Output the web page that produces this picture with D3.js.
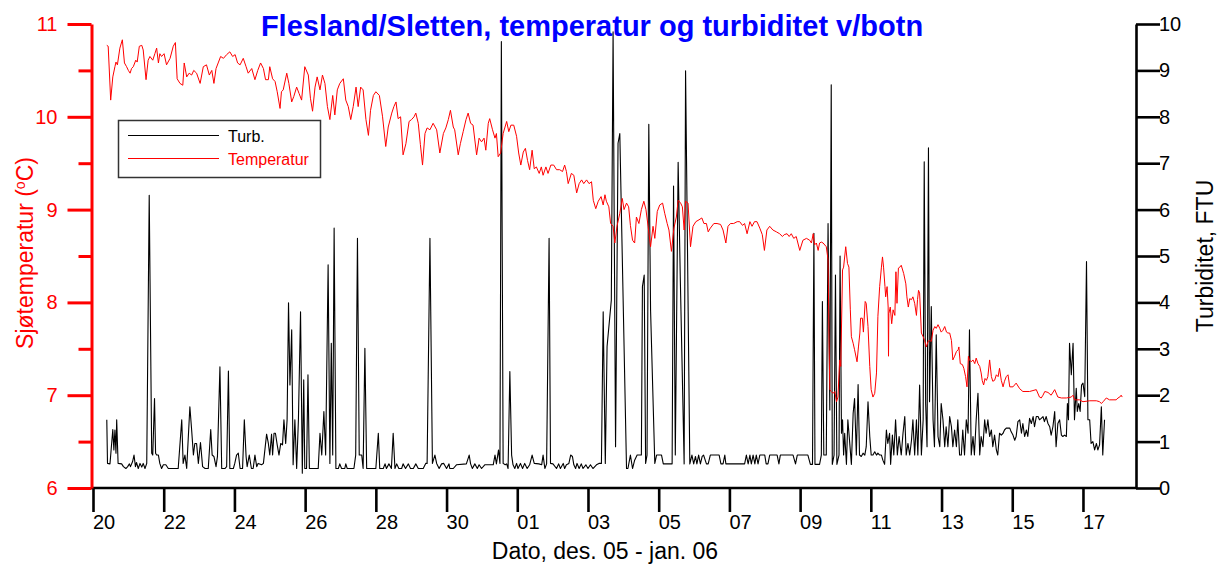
<!DOCTYPE html>
<html>
<head>
<meta charset="utf-8">
<script src="https://cdn.jsdelivr.net/npm/d3@7"></script>
<style>
  body { margin: 0; background: #fff; }
  svg { display: block; }
  text { font-family: "Liberation Sans", Arial, Helvetica, sans-serif; }
</style>
</head>
<body>
<svg id="chart" width="1217" height="564"></svg>
<script>
// Time is given as fractional days after 20 Dec 2005 00:00.
const tempDays = [
  0.39,0.43,0.50,0.56,0.62,0.65,0.69,0.76,0.83,0.89,0.95,1.00,1.05,1.09,1.14,1.21,1.25,1.31,1.38,1.42,
  1.50,1.56,1.61,1.69,1.75,1.80,1.85,1.89,1.94,2.01,2.08,2.18,2.27,2.33,2.38,2.46,2.54,2.58,2.65,2.72,
  2.79,2.85,2.93,3.03,3.12,3.21,3.29,3.36,3.42,3.48,3.54,3.61,3.69,3.78,3.87,3.95,4.02,4.09,4.16,4.25,
  4.33,4.39,4.49,4.58,4.66,4.74,4.82,4.88,4.96,5.00,5.08,5.15,5.21,5.29,5.33,5.38,5.48,5.54,5.62,5.68,
  5.76,5.83,5.90,5.99,6.09,6.15,6.21,6.28,6.34,6.42,6.49,6.56,6.63,6.70,6.78,6.84,6.91,6.98,7.08,7.15,
  7.22,7.29,7.36,7.44,7.50,7.57,7.64,7.72,7.79,7.85,7.93,8.00,8.10,8.19,8.28,8.35,8.45,8.51,8.57,8.63,
  8.70,8.77,8.85,8.94,9.01,9.08,9.13,9.20,9.26,9.32,9.39,9.45,9.53,9.62,9.72,9.81,9.91,9.98,10.05,
  10.11,10.19,10.23,10.33,10.39,10.47,10.55,10.61,10.68,10.75,10.85,10.92,10.99,11.06,11.11,11.18,11.22,11.30,11.37,11.41,
  11.46,11.53,11.60,11.70,11.76,11.82,11.90,11.98,12.04,12.10,12.17,12.23,12.29,12.35,12.42,12.48,12.54,12.62,12.68,12.73,
  12.81,12.87,12.95,13.03,13.11,13.20,13.28,13.34,13.39,13.44,13.53,13.60,13.68,13.75,13.82,13.88,13.96,14.03,14.10,14.15,
  14.22,14.29,14.37,14.43,14.48,14.52,14.59,14.64,14.71,14.76,14.82,14.90,14.97,15.02,15.09,15.15,15.20,15.26,15.32,15.37,
  15.44,15.51,15.58,15.64,15.70,15.77,15.84,15.89,15.96,16.03,16.11,16.17,16.24,16.29,16.36,16.43,16.50,16.55,16.62,16.67,
  16.72,16.76,16.83,16.90,16.97,17.05,17.14,17.22,17.28,17.35,17.40,17.46,17.56,17.65,17.75,17.82,17.90,17.96,18.03,18.12,
  18.22,18.29,18.37,18.43,18.50,18.58,18.64,18.71,18.78,18.86,18.93,18.99,19.06,19.14,19.23,19.33,19.42,19.50,19.55,19.63,
  19.69,19.75,19.82,19.89,
  19.99,20.08,20.18,20.27,20.32,20.37,20.41,20.46,20.51,20.55,20.60,20.65,20.74,20.79,20.82,20.84,20.88,20.93,20.98,21.03,
  21.07,21.12,21.15,21.20,21.23,21.29,21.34,21.38,21.42,21.45,21.50,21.54,21.61,21.65,21.69,21.71,21.76,21.79,21.84,21.87,
  21.92,21.97,22.01,22.06,22.11,22.16,22.20,22.25,22.30,22.33,22.36,22.40,22.42,22.46,22.49,22.50,22.51,22.55,22.59,22.63,
  22.68,22.71,22.74,22.78,22.82,22.86,22.93,22.99,23.02,23.06,23.10,23.15,23.19,23.24,23.29,23.32,23.35,23.38,23.43,23.48,
  23.52,23.57,23.62,23.66,23.71,23.76,23.81,23.85,23.90,23.95,23.99,24.04,24.09,24.14,24.18,24.23,24.28,24.32,24.37,24.42,
  24.47,24.49,24.53,24.59,24.63,24.68,24.72,24.76,24.79,24.84,24.89,24.94,24.98,25.03,25.08,25.12,25.15,25.19,25.23,25.27,
  25.31,25.36,25.41,25.45,25.50,25.55,25.60,25.64,25.69,25.74,25.78,25.83,25.88,25.93,26.02,26.11,26.21,26.30,26.49,26.68,
  26.77,26.82,26.87,26.92,27.01,27.10,27.20,27.29,27.39,27.53,27.67,27.72,27.76,27.90,28.00,28.19,28.38,28.47,28.52,28.57,
  28.66,28.75,28.85,28.94,28.99,29.04,29.08,29.11
];
const tempValues = [
  10.77,10.76,10.18,10.43,10.54,10.59,10.56,10.74,10.83,10.58,10.54,10.50,10.47,10.52,10.54,10.61,10.59,10.76,10.77,10.72,
  10.40,10.61,10.65,10.61,10.68,10.74,10.58,10.68,10.65,10.68,10.56,10.63,10.76,10.80,10.41,10.36,10.34,10.58,10.43,10.47,
  10.45,10.50,10.47,10.36,10.54,10.56,10.45,10.50,10.36,10.52,10.58,10.65,10.63,10.67,10.70,10.65,10.67,10.58,10.56,10.63,
  10.54,10.47,10.52,10.40,10.50,10.58,10.52,10.40,10.40,10.54,10.41,10.38,10.27,10.09,10.27,10.29,10.47,10.36,10.16,10.22,
  10.32,10.25,10.18,10.54,10.45,10.20,10.06,10.32,10.43,10.29,10.45,10.36,10.11,9.97,10.23,10.02,10.29,10.36,10.41,10.18,
  10.11,9.97,10.11,10.32,10.11,10.32,10.29,9.97,9.80,10.07,10.23,10.27,10.23,10.00,9.68,9.89,10.04,10.11,10.16,9.98,
  10.00,9.59,9.71,9.95,9.97,10.00,10.04,9.93,9.70,9.48,9.82,9.88,9.86,9.93,9.86,9.61,9.82,9.88,9.97,
  10.07,9.89,9.86,9.59,9.71,9.84,9.97,10.04,9.93,9.91,9.59,9.77,9.73,9.77,9.64,9.93,9.98,9.86,9.77,9.82,
  9.57,9.61,9.82,9.95,9.84,9.91,9.91,9.79,9.61,9.48,9.62,9.66,9.53,9.43,9.64,9.44,9.46,9.39,9.46,9.37,
  9.46,9.39,9.48,9.48,9.43,9.43,9.41,9.48,9.41,9.28,9.39,9.37,9.18,9.28,9.32,9.28,9.32,9.28,9.30,9.10,
  9.01,9.09,9.14,9.05,9.16,9.09,9.03,8.85,8.82,8.64,8.82,8.96,9.12,9.00,9.07,9.03,8.83,8.67,8.64,8.92,
  8.85,9.00,9.09,9.00,8.82,8.60,8.82,8.69,8.98,9.05,9.07,8.96,8.85,8.78,8.55,8.80,8.92,9.10,9.07,9.03,
  8.78,9.09,9.07,8.60,8.82,8.87,8.89,8.91,8.85,8.85,8.76,8.80,8.85,8.85,8.84,8.78,8.64,8.82,8.85,8.85,
  8.87,8.87,8.83,8.85,8.74,8.87,8.82,8.87,8.87,8.80,8.73,8.56,8.78,8.82,8.78,8.76,8.74,8.71,8.73,8.74,
  8.71,8.74,8.69,8.71,
  8.56,8.67,8.69,8.67,8.64,8.74,8.62,8.64,8.56,8.64,8.65,8.64,8.60,8.46,7.52,7.06,7.04,7.02,7.04,6.93,
  6.98,7.38,7.31,8.35,8.38,8.60,8.42,8.38,7.92,7.63,7.56,7.49,7.36,7.52,7.67,7.83,7.83,7.68,8.01,7.99,
  7.74,7.31,7.06,6.98,7.02,7.24,7.85,8.17,8.38,8.49,8.38,8.17,8.06,8.17,7.95,7.42,7.88,7.95,7.77,7.92,
  7.86,8.33,7.99,8.37,8.38,8.40,8.31,8.20,8.06,7.95,8.04,8.03,8.06,7.99,7.86,8.03,8.13,8.10,7.67,7.63,
  7.59,7.52,7.58,7.59,7.58,7.70,7.74,7.72,7.76,7.72,7.68,7.70,7.74,7.68,7.67,7.67,7.59,7.38,7.42,7.47,
  7.49,7.52,7.34,7.33,7.29,7.20,7.09,7.42,7.38,7.36,7.38,7.34,7.40,7.34,7.31,7.24,7.16,7.11,7.18,7.16,
  7.20,7.38,7.20,7.15,7.16,7.22,7.20,7.29,7.16,7.09,7.15,7.20,7.22,7.09,7.09,7.13,7.07,7.04,7.04,7.06,
  6.98,6.97,7.00,7.04,7.03,7.00,7.06,6.98,6.97,6.97,6.98,7.00,6.95,6.95,6.93,6.94,6.94,6.93,6.91,6.93,
  6.97,6.95,6.95,6.95,6.97,6.98,7.00,6.98
];

const turbDays = [
  0.39,0.41,0.48,0.56,0.59,0.62,0.65,0.67,0.71,0.81,0.86,0.93,0.98,1.03,1.06,1.12,1.16,1.20,1.23,1.28,
  1.33,1.38,1.42,1.47,1.52,1.59,1.66,1.69,1.74,1.77,1.80,1.85,1.89,1.94,1.99,2.06,2.13,2.41,2.51,2.55,
  2.60,2.65,2.74,2.79,2.84,2.88,2.93,2.98,3.04,3.10,3.17,3.26,3.33,3.37,3.42,3.48,3.52,3.59,3.64,3.73,
  3.78,3.83,3.87,3.97,4.01,4.06,4.11,4.16,4.23,4.28,4.33,4.36,4.42,4.48,4.53,4.58,4.63,4.67,4.77,4.82,
  4.91,4.96,5.00,5.05,5.08,5.12,5.16,5.21,5.26,5.31,5.36,5.40,5.45,5.49,5.53,5.57,5.62,5.66,5.71,5.76,
  5.81,5.87,5.92,5.96,5.99,6.04,6.08,6.12,6.37,6.42,6.47,6.53,6.58,6.65,6.70,6.74,6.78,6.82,6.87,6.94,
  6.98,7.03,7.12,7.15,7.19,7.38,7.43,7.48,7.53,7.60,7.64,7.69,7.74,8.00,8.07,8.11,8.21,8.26,8.30,8.37,
  8.44,8.49,8.54,8.59,8.65,8.73,8.77,8.84,8.92,8.98,9.06,9.13,9.20,9.34,9.41,9.45,9.53,9.60,9.67,9.72,
  9.79,9.86,9.92,10.00,10.07,
  10.09,10.19,10.28,10.56,10.64,10.68,10.73,10.80,10.87,10.92,10.99,11.08,11.32,11.37,11.41,11.47,11.51,11.55,11.60,11.66,
  11.70,11.74,11.79,11.84,11.88,11.93,11.98,12.02,12.09,12.15,12.21,12.28,12.35,12.42,12.48,12.61,12.69,12.73,12.78,12.83,
  12.90,12.94,13.01,13.11,13.17,13.22,13.30,13.34,13.39,13.46,13.51,13.56,13.60,13.65,13.69,13.75,13.81,13.86,13.94,14.00,
  14.07,14.14,14.24,14.31,14.38,14.43,14.49,14.54,14.66,14.71,14.78,14.85,14.90,15.09,15.13,15.20,15.26,15.32,15.39,15.51,
  15.54,15.59,15.63,15.67,15.72,15.77,15.89,15.94,16.08,16.13,16.38,16.42,16.47,16.55,16.61,16.72,16.76,16.88,16.94,16.99,
  17.04,17.08,17.13,17.18,17.23,17.27,17.35,17.40,17.46,17.71,17.76,17.82,17.87,17.90,18.43,18.48,18.53,18.58,18.62,18.67,
  18.72,18.76,18.81,18.86,19.00,19.04,19.09,19.14,19.35,19.40,19.44,19.80,19.87,19.92,19.99,
  20.22,20.29,20.35,20.39,20.42,20.55,20.60,20.63,20.67,20.74,20.79,20.84,20.88,20.91,20.96,21.00,21.04,21.10,21.13,21.17,
  21.20,21.23,21.26,21.31,21.35,21.40,21.45,21.50,21.54,21.59,21.64,21.68,21.73,21.78,21.83,21.87,21.92,21.97,22.01,22.06,
  22.11,22.16,22.20,22.25,22.30,22.34,22.39,22.44,22.48,22.53,22.56,22.61,22.65,22.70,22.75,22.80,22.86,22.91,22.96,23.00,
  23.05,23.10,23.15,23.19,23.24,23.29,23.33,23.38,23.43,23.48,23.51,23.55,23.59,23.63,23.66,23.71,23.76,23.80,23.85,23.90,
  23.95,23.99,24.04,24.09,24.13,24.18,24.23,24.28,24.32,24.37,24.42,24.46,24.51,24.56,24.60,24.65,24.70,24.75,24.79,24.84,
  24.89,24.93,24.98,25.03,25.08,25.12,25.17,25.22,25.26,25.31,25.36,25.41,25.45,25.50,25.55,25.59,25.64,25.69,25.74,25.78,
  25.83,25.93,25.97,26.02,26.07,26.11,26.16,26.21,26.26,26.30,26.35,26.40,26.44,26.49,26.54,26.59,26.63,26.68,26.73,26.77,
  26.82,26.87,26.91,26.96,27.01,27.06,27.10,27.15,27.20,27.24,27.29,27.34,27.39,27.43,27.48,27.53,27.56,27.59,27.62,27.67,
  27.72,27.76,27.81,27.84,27.88,27.92,27.96,28.00,28.05,28.10,28.14,28.19,28.23,28.28,28.33,28.38,28.42,28.47,28.52,28.56,
  28.61
];
const turbValues = [
  1.47,0.53,0.52,1.26,0.82,1.25,0.75,1.47,0.53,0.52,0.46,0.42,0.46,0.52,0.46,0.57,0.71,0.46,0.55,0.42,
  0.53,0.45,0.53,0.42,0.53,6.31,0.75,0.71,1.93,0.75,0.71,0.71,0.53,0.42,0.50,0.50,0.42,0.42,1.47,0.53,
  0.71,0.42,1.75,1.25,0.71,0.96,0.96,0.53,0.98,0.46,0.42,0.42,1.26,0.71,0.68,0.46,0.68,2.61,0.42,0.42,
  0.46,2.52,0.42,0.42,0.53,0.71,0.75,0.42,0.42,1.47,0.68,0.46,0.71,0.42,0.42,0.71,0.46,0.53,0.50,0.53,
  1.16,0.96,0.71,1.16,0.71,1.18,1.18,0.93,0.71,0.96,0.93,1.47,0.96,1.47,3.99,2.22,3.41,0.50,1.47,0.42,
  1.47,3.80,0.32,2.33,0.42,0.42,2.44,0.42,0.42,1.18,0.71,1.65,0.71,4.81,0.53,3.12,0.71,5.60,0.42,0.42,
  0.52,0.42,0.42,0.52,0.42,0.42,0.71,5.38,0.71,0.71,0.42,3.01,0.42,0.42,1.18,0.42,0.42,0.52,0.42,0.52,
  0.42,1.18,0.42,0.52,0.42,0.42,0.52,0.42,0.52,0.42,0.42,0.52,0.42,0.42,0.53,0.53,5.38,0.53,0.71,0.53,
  0.42,0.52,0.53,0.42,0.52,
  0.42,0.42,0.50,0.52,0.71,0.52,0.42,0.52,0.42,0.50,0.42,0.50,0.50,0.71,0.52,0.82,0.53,9.62,0.53,0.50,
  0.52,0.42,2.51,0.71,0.50,0.42,0.53,0.42,0.53,0.42,0.53,0.42,0.50,0.71,0.53,0.52,0.50,0.71,0.42,0.52,
  5.38,0.53,0.52,0.42,0.52,0.42,0.53,0.42,0.50,0.53,0.71,0.68,0.50,0.42,0.53,0.42,0.52,0.42,0.50,0.42,
  0.50,0.42,0.50,0.53,0.53,3.80,0.53,3.05,4.05,9.83,0.89,7.43,7.64,0.42,0.42,0.71,0.42,0.60,0.71,0.71,
  4.34,4.59,0.53,0.71,7.84,3.84,0.53,0.71,0.71,0.52,0.52,6.51,0.71,7.02,4.55,0.52,8.99,0.52,0.71,0.52,
  0.68,0.52,0.71,0.52,0.68,0.71,0.52,0.52,0.71,0.71,0.52,0.52,0.71,0.52,0.52,0.71,0.52,0.71,0.52,0.71,
  0.52,0.71,0.52,0.71,0.71,0.52,0.52,0.71,0.71,0.52,0.71,0.71,0.52,0.71,0.71,
  0.71,0.51,0.51,5.49,0.51,0.51,0.71,4.02,0.71,0.71,5.70,1.68,8.69,0.51,0.71,4.59,0.51,0.71,5.00,1.18,
  1.47,0.71,1.18,0.51,1.47,1.00,0.51,1.61,1.93,0.71,2.23,0.71,0.68,0.75,0.71,0.89,1.86,1.11,0.71,0.71,
  0.78,0.71,0.75,0.71,0.71,0.60,0.51,1.25,0.96,1.18,0.51,1.14,0.71,1.47,0.71,1.11,0.71,1.18,1.54,0.71,
  0.96,0.71,1.03,1.47,0.71,1.47,0.71,2.22,0.71,1.47,7.03,1.82,0.89,7.33,1.86,3.91,1.47,0.89,3.30,1.11,
  0.89,1.82,1.47,0.89,1.32,0.89,1.54,1.32,0.89,1.25,0.89,1.47,0.71,0.71,1.25,0.71,1.47,1.18,3.41,0.71,
  1.11,0.71,1.47,2.04,0.71,1.11,0.89,1.47,1.18,1.47,1.11,1.25,0.89,1.14,0.82,0.71,1.18,1.14,1.18,1.25,
  1.29,1.29,1.21,1.14,1.03,1.11,1.43,1.47,1.18,1.39,1.11,1.25,1.11,1.50,1.39,1.54,1.32,1.54,1.54,1.47,
  1.50,1.54,1.43,1.54,1.39,1.32,1.14,1.32,1.65,0.89,1.39,1.47,1.14,1.11,1.14,1.11,1.82,1.47,3.12,2.44,
  3.12,1.47,2.15,1.65,1.82,1.65,2.22,2.26,1.97,4.88,1.47,1.47,0.96,1.00,0.82,0.96,0.82,0.93,1.75,0.71,
  1.47
];

// Axis ticks and labels
const tempTicks = [6, 7, 8, 9, 10, 11];
const tempMinorTicks = [6.5, 7.5, 8.5, 9.5, 10.5];
const turbTicks = [0, 1, 2, 3, 4, 5, 6, 7, 8, 9, 10];
const dateTickDays = [0, 2, 4, 6, 8, 10, 12, 14, 16, 18, 20, 22, 24, 26, 28];
const dateTickLabels = ["20", "22", "24", "26", "28", "30", "01", "03", "05", "07", "09", "11", "13", "15", "17"];

const startDate = new Date(2005, 11, 20);
const asDate = d => new Date(startDate.getTime() + d * 864e5);

const svg = d3.select("#chart");
const plotLeft = 93, plotRight = 1136, plotTop = 24, plotBottom = 488;

const x = d3.scaleTime().domain([startDate, asDate(29.5)]).range([plotLeft, plotRight]);
const yTemp = d3.scaleLinear().domain([6, 11]).range([plotBottom, plotTop]);
const yTurb = d3.scaleLinear().domain([0, 10]).range([plotBottom, plotTop]);

const RED = "#ff0000";

// Turbidity series (right axis)
const turb = turbDays.map((d, i) => [asDate(d), turbValues[i]]);
svg.append("path")
  .datum(turb)
  .attr("fill", "none")
  .attr("stroke", "#000")
  .attr("stroke-width", 1.1)
  .attr("stroke-linejoin", "round")
  .attr("d", d3.line().x(d => x(d[0])).y(d => yTurb(d[1])));

// Temperature series (left axis)
const temp = tempDays.map((d, i) => [asDate(d), tempValues[i]]);
svg.append("path")
  .datum(temp)
  .attr("fill", "none")
  .attr("stroke", RED)
  .attr("stroke-width", 1)
  .attr("stroke-linejoin", "round")
  .attr("d", d3.line().x(d => x(d[0])).y(d => yTemp(d[1])));

// Bottom date axis
const xAxis = svg.append("g")
  .attr("transform", `translate(0,${plotBottom})`)
  .call(d3.axisBottom(x)
    .tickValues(dateTickDays.map(asDate))
    .tickFormat((d, i) => dateTickLabels[i])
    .tickSize(24).tickSizeOuter(0).tickPadding(3));
xAxis.select(".domain").attr("stroke", "#000").attr("stroke-width", 2.6)
  .attr("d", `M${plotLeft - 2},0H${plotRight}`);
xAxis.selectAll(".tick line").attr("stroke", "#000").attr("stroke-width", 2.6);
xAxis.selectAll(".tick text")
  .attr("text-anchor", "start")
  .attr("x", -0.5)
  .attr("fill", "#000")
  .style("font-size", "20px");

// Left temperature axis
const yAxisL = svg.append("g")
  .attr("transform", `translate(${plotLeft - 1.5},0)`)
  .call(d3.axisLeft(yTemp).tickValues(tempTicks).tickFormat(d3.format("d"))
    .tickSize(24).tickSizeOuter(0).tickPadding(10));
yAxisL.select(".domain").attr("stroke", RED).attr("stroke-width", 3);
yAxisL.selectAll(".tick line").attr("stroke", RED).attr("stroke-width", 3);
yAxisL.selectAll(".tick text").attr("fill", RED).style("font-size", "20px");

const yAxisLMinor = svg.append("g")
  .attr("transform", `translate(${plotLeft - 1.5},0)`)
  .call(d3.axisLeft(yTemp).tickValues(tempMinorTicks).tickFormat("")
    .tickSize(13).tickSizeOuter(0));
yAxisLMinor.select(".domain").remove();
yAxisLMinor.selectAll(".tick line").attr("stroke", RED).attr("stroke-width", 3);

// Right turbidity axis
const yAxisR = svg.append("g")
  .attr("transform", `translate(${plotRight},0)`)
  .call(d3.axisRight(yTurb).tickValues(turbTicks).tickFormat(d3.format("d"))
    .tickSize(24).tickSizeOuter(0).tickPadding(-1));
yAxisR.select(".domain").attr("stroke", "#000").attr("stroke-width", 2.6);
yAxisR.selectAll(".tick line").attr("stroke", "#000").attr("stroke-width", 2.6);
yAxisR.selectAll(".tick text").attr("fill", "#000").style("font-size", "20px");

// Title
svg.append("text")
  .attr("x", 592).attr("y", 35.5)
  .attr("text-anchor", "middle")
  .attr("fill", "#0000ff")
  .style("font-size", "29px")
  .style("font-weight", "bold")
  .text("Flesland/Sletten, temperatur og turbiditet v/botn");

// Axis titles
svg.append("text")
  .attr("x", 605).attr("y", 559)
  .attr("text-anchor", "middle")
  .attr("fill", "#000")
  .style("font-size", "23px")
  .text("Dato, des. 05 - jan. 06");

const leftTitle = svg.append("text")
  .attr("transform", "translate(33,253) rotate(-90)")
  .attr("text-anchor", "middle")
  .attr("fill", RED)
  .style("font-size", "23px");
leftTitle.append("tspan").text("Sjøtemperatur (");
leftTitle.append("tspan").attr("dy", -8).style("font-size", "14px").text("o");
leftTitle.append("tspan").attr("dy", 8).text("C)");

svg.append("text")
  .attr("transform", "translate(1213,256) rotate(-90)")
  .attr("text-anchor", "middle")
  .attr("fill", "#000")
  .style("font-size", "23px")
  .text("Turbiditet, FTU");

// Legend
const legend = svg.append("g");
legend.append("rect")
  .attr("x", 118.5).attr("y", 120.5).attr("width", 202).attr("height", 57)
  .attr("fill", "#fff").attr("stroke", "#333").attr("stroke-width", 1.5);
const legendItems = [
  { label: "Turb.", color: "#000", y: 135.5 },
  { label: "Temperatur", color: RED, y: 158.5 }
];
legendItems.forEach(item => {
  legend.append("line")
    .attr("x1", 128).attr("x2", 219).attr("y1", item.y).attr("y2", item.y)
    .attr("stroke", item.color).attr("stroke-width", 1.2);
  legend.append("text")
    .attr("x", 228).attr("y", item.y + 6)
    .attr("fill", item.color)
    .style("font-size", "16px")
    .text(item.label);
});
</script>
</body>
</html>
